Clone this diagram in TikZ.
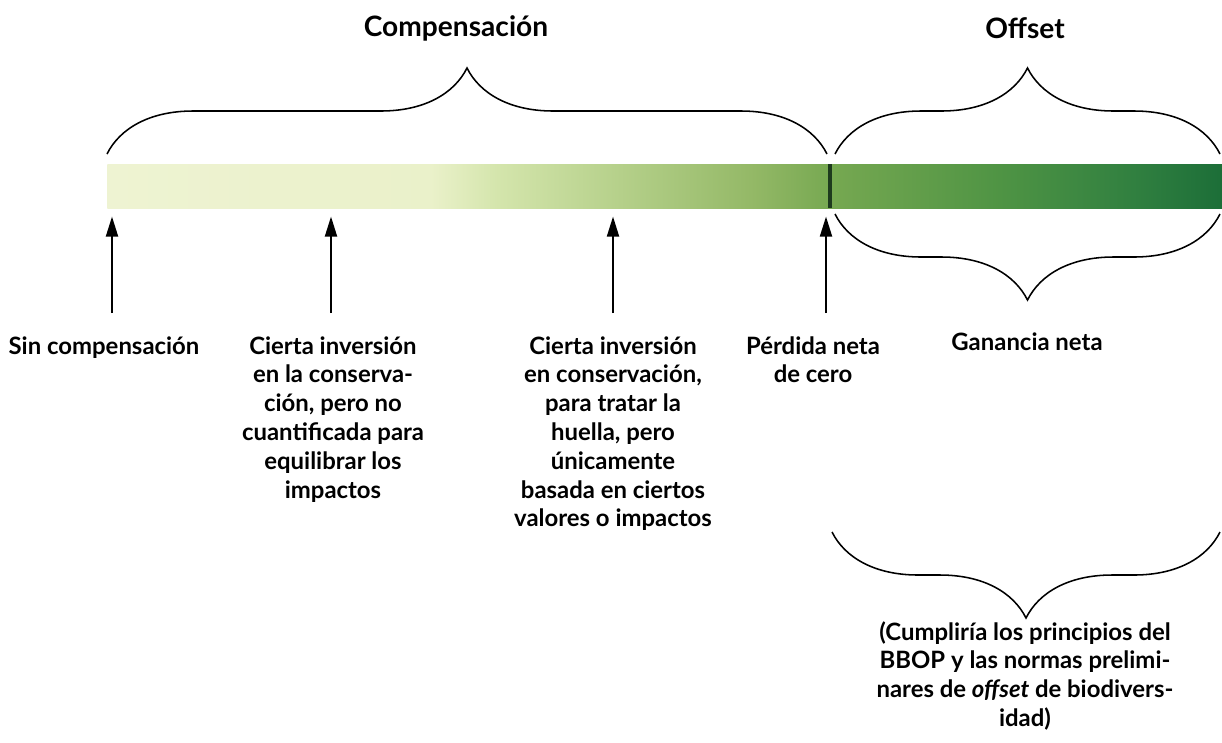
\documentclass[tikz,border=0pt]{standalone}
\usepackage{fontspec}
\setmainfont{Lato}
\usetikzlibrary{arrows.meta,decorations.pathreplacing}

\definecolor{gA}{HTML}{EEF3D2}
\definecolor{gB}{HTML}{EAF1CA}
\definecolor{gC}{HTML}{D4E5AC}
\definecolor{gD}{HTML}{B5D08A}
\definecolor{gE}{HTML}{93B866}
\definecolor{gF}{HTML}{76A851}
\definecolor{gG}{HTML}{4F9444}
\definecolor{gH}{HTML}{318040}
\definecolor{gI}{HTML}{1C6E38}
\definecolor{sepdark}{HTML}{1E3A1E}

\pgfdeclarehorizontalshading{bargrad}{100bp}{color(0bp)=(gA); color(25bp)=(gA);
  color(39.5bp)=(gB); color(42.5bp)=(gC); color(48bp)=(gD); color(54bp)=(gE);
  color(57.5bp)=(gF); color(65bp)=(gG); color(71bp)=(gH); color(75bp)=(gI); color(100bp)=(gI)}

\begin{document}
\begin{tikzpicture}[
    lbl/.style={font=\bfseries\fontsize{17}{20.5}\selectfont, align=center, anchor=north, inner sep=0pt},
    ttl/.style={font=\bfseries\fontsize{20}{24}\selectfont, inner sep=0pt},
    arr/.style={line width=1.4pt, -{Triangle[length=0.5cm,width=0.3cm]}, shorten >=0.2cm},
    brc/.style={line width=1.1pt, decorate, decoration={brace, amplitude=2.15cm, aspect=0.5}}
  ]
  \useasboundingbox (0,0) rectangle (30.55,-18.55);

  % gradient bar
  \node (bar) [shade, shading=bargrad, minimum width=27.875cm, minimum height=1.1cm, inner sep=0pt, anchor=north west] at (2.675,-4.1) {};
  \fill[sepdark] (20.7,-4.1) rectangle (20.8,-5.2);

  % titles
  \node (compTitle) [ttl] at (11.4,-0.7) {Compensación};
  \node (offTitle) [ttl] at (25.625,-0.7) {Offset};

  % braces
  \coordinate (cmpL) at (2.675,-3.85);
  \coordinate (cmpR) at (20.675,-3.85);
  \coordinate (offL) at (20.875,-3.85);
  \coordinate (offR) at (30.5,-3.85);
  \coordinate (ganL) at (20.875,-5.35);
  \coordinate (ganR) at (30.5,-5.35);
  \coordinate (bbL) at (20.8,-13.3);
  \coordinate (bbR) at (30.5,-13.3);
  \draw[brc] (cmpL) -- (cmpR);
  \draw[brc] (offL) -- (offR);
  \draw[brc] (ganR) -- (ganL);
  \draw[brc] (bbR) -- (bbL);

  % labels
  \node (lblSin) [lbl] at (2.6,-8.4) {Sin compensación};
  \node (lblCierta) [lbl] at (8.325,-8.4) {Cierta inversión\\en la conserva-\\ción, pero no\\cuantificada para\\equilibrar los\\impactos};
  \node (lblHuella) [lbl] at (15.325,-8.4) {Cierta inversión\\en conservación,\\para tratar la\\huella, pero\\únicamente\\basada en ciertos\\valores o impactos};
  \node (lblCero) [lbl] at (20.325,-8.4) {Pérdida neta\\de cero};
  \node (lblGanancia) [lbl] at (25.675,-8.3) {Ganancia neta};
  \node (lblBbop) [lbl] at (25.625,-15.525) {(Cumpliría los principios del\\BBOP y las normas prelimi-\\nares de \textit{offset} de biodivers-\\idad)};

  % arrows
  \coordinate (aSin) at (2.8,-7.825);
  \coordinate (aCierta) at (8.275,-7.825);
  \coordinate (aHuella) at (15.325,-7.825);
  \coordinate (aCero) at (20.65,-7.825);
  \draw[arr] (aSin) -- (aSin |- bar.south);
  \draw[arr] (aCierta) -- (aCierta |- bar.south);
  \draw[arr] (aHuella) -- (aHuella |- bar.south);
  \draw[arr] (aCero) -- (aCero |- bar.south);
\end{tikzpicture}
\end{document}
